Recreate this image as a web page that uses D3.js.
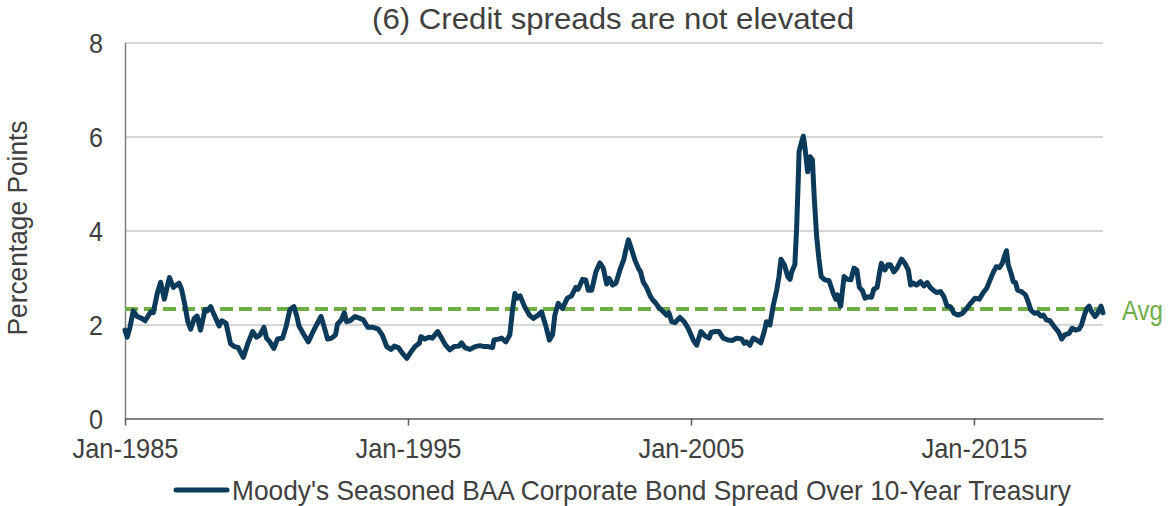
<!DOCTYPE html>
<html>
<head>
<meta charset="utf-8">
<script src="https://cdn.jsdelivr.net/npm/d3@7"></script>
<style>
  body { margin: 0; background: #fff; }
  text { font-family: "Liberation Sans", Arial, sans-serif; fill: #404040; }
</style>
</head>
<body>
<div class="chart"></div>
<script>
// decimal year of each reading
var dates = [
  1985.00, 1985.08, 1985.18, 1985.29, 1985.43, 1985.59, 1985.71, 1985.91, 1986.00, 1986.14,
  1986.26, 1986.39, 1986.57, 1986.71, 1986.91, 1987.00, 1987.12, 1987.22, 1987.32, 1987.45,
  1987.55, 1987.67, 1987.83, 1987.91, 1988.03, 1988.14, 1988.33, 1988.42, 1988.57, 1988.73,
  1988.86, 1989.00, 1989.18, 1989.35, 1989.51, 1989.65, 1989.77, 1989.91, 1990.00, 1990.12,
  1990.26, 1990.39, 1990.57, 1990.69, 1990.83, 1990.97, 1991.07, 1991.15, 1991.30, 1991.48,
  1991.65, 1991.77, 1991.93, 1992.04, 1992.16, 1992.30, 1992.44, 1992.51, 1992.65, 1992.75,
  1992.83, 1992.95, 1993.13, 1993.30, 1993.42, 1993.58, 1993.77, 1993.95, 1994.09, 1994.25,
  1994.40, 1994.52, 1994.66, 1994.80, 1994.96, 1995.11, 1995.25, 1995.40, 1995.46, 1995.60,
  1995.74, 1995.86, 1996.05, 1996.19, 1996.33, 1996.48, 1996.63, 1996.80, 1996.89, 1997.01,
  1997.19, 1997.37, 1997.54, 1997.69, 1997.83, 1997.99, 1998.04, 1998.19, 1998.31, 1998.46,
  1998.60, 1998.70, 1998.78, 1998.86, 1998.96, 1999.13, 1999.29, 1999.43, 1999.60, 1999.72,
  1999.88, 2000.00, 2000.11, 2000.19, 2000.31, 2000.46, 2000.63, 2000.78, 2000.93, 2001.01,
  2001.17, 2001.28, 2001.37, 2001.49, 2001.64, 2001.78, 2001.90, 2002.02, 2002.11, 2002.23,
  2002.35, 2002.49, 2002.63, 2002.70, 2002.79, 2002.90, 2003.02, 2003.14, 2003.22, 2003.31,
  2003.43, 2003.55, 2003.65, 2003.75, 2003.84, 2004.02, 2004.14, 2004.22, 2004.32, 2004.43,
  2004.61, 2004.76, 2004.90, 2005.08, 2005.20, 2005.35, 2005.49, 2005.64, 2005.71, 2005.85,
  2005.99, 2006.14, 2006.31, 2006.46, 2006.61, 2006.79, 2006.88, 2006.96, 2007.08, 2007.20,
  2007.32, 2007.47, 2007.59, 2007.67, 2007.79, 2007.91, 2008.03, 2008.11, 2008.18, 2008.30,
  2008.42, 2008.50, 2008.56, 2008.67, 2008.73, 2008.79, 2008.82, 2008.91, 2008.97, 2009.03,
  2009.12, 2009.21, 2009.29, 2009.36, 2009.44, 2009.52, 2009.60, 2009.73, 2009.88, 2010.03,
  2010.12, 2010.17, 2010.29, 2010.41, 2010.53, 2010.65, 2010.76, 2010.86, 2010.95, 2011.06,
  2011.15, 2011.26, 2011.38, 2011.46, 2011.58, 2011.68, 2011.73, 2011.85, 2011.96, 2012.05,
  2012.17, 2012.28, 2012.44, 2012.56, 2012.68, 2012.76, 2012.86, 2012.97, 2013.11, 2013.23,
  2013.35, 2013.45, 2013.56, 2013.68, 2013.82, 2013.94, 2014.05, 2014.17, 2014.29, 2014.44,
  2014.60, 2014.74, 2014.88, 2015.04, 2015.19, 2015.33, 2015.45, 2015.57, 2015.69, 2015.79,
  2015.90, 2016.00, 2016.07, 2016.15, 2016.21, 2016.31, 2016.39, 2016.47, 2016.54, 2016.68,
  2016.82, 2016.91, 2017.01, 2017.13, 2017.25, 2017.36, 2017.45, 2017.56, 2017.68, 2017.84,
  2017.98, 2018.10, 2018.21, 2018.36, 2018.47, 2018.59, 2018.71, 2018.80, 2018.90, 2018.99,
  2019.07, 2019.16, 2019.28, 2019.37, 2019.49, 2019.56
];

// BAA spread over 10y treasury, percentage points
var spread = [
  1.88, 1.73, 1.95, 2.29, 2.17, 2.13, 2.08, 2.27, 2.25, 2.66,
  2.90, 2.54, 3.00, 2.79, 2.88, 2.75, 2.41, 2.06, 1.90, 2.13,
  2.18, 1.88, 2.32, 2.29, 2.38, 2.22, 1.97, 2.08, 2.03, 1.59,
  1.53, 1.51, 1.30, 1.61, 1.85, 1.73, 1.78, 1.94, 1.71, 1.63,
  1.49, 1.69, 1.71, 1.95, 2.32, 2.38, 2.18, 1.97, 1.81, 1.63,
  1.85, 1.99, 2.17, 1.95, 1.69, 1.71, 1.78, 2.01, 2.10, 2.25,
  2.06, 2.08, 2.17, 2.13, 2.10, 1.94, 1.94, 1.90, 1.78, 1.53,
  1.47, 1.54, 1.51, 1.39, 1.28, 1.42, 1.53, 1.60, 1.74, 1.69,
  1.73, 1.71, 1.85, 1.71, 1.56, 1.46, 1.53, 1.54, 1.61, 1.51,
  1.47, 1.53, 1.55, 1.53, 1.53, 1.51, 1.67, 1.69, 1.71, 1.63,
  1.78, 2.34, 2.66, 2.56, 2.61, 2.37, 2.20, 2.13, 2.20, 2.27,
  1.95, 1.67, 1.78, 2.20, 2.45, 2.34, 2.56, 2.61, 2.79, 2.75,
  2.96, 2.95, 2.73, 2.73, 3.12, 3.31, 3.20, 2.86, 2.98, 2.84,
  2.88, 3.16, 3.39, 3.59, 3.80, 3.60, 3.37, 3.20, 3.12, 2.91,
  2.79, 2.62, 2.52, 2.46, 2.38, 2.27, 2.20, 2.25, 2.06, 2.04,
  2.15, 2.06, 1.92, 1.67, 1.56, 1.85, 1.76, 1.71, 1.83, 1.85,
  1.85, 1.71, 1.67, 1.66, 1.71, 1.69, 1.60, 1.63, 1.56, 1.71,
  1.67, 1.61, 1.85, 2.06, 1.99, 2.41, 2.73, 3.02, 3.39, 3.27,
  3.02, 2.96, 3.12, 3.27, 4.01, 5.07, 5.68, 5.89, 6.01, 5.75,
  5.25, 5.57, 5.50, 4.65, 3.87, 3.40, 3.02, 2.95, 2.93, 2.66,
  2.54, 2.63, 2.39, 3.02, 2.96, 2.95, 3.20, 3.16, 2.79, 2.72,
  2.56, 2.59, 2.58, 2.75, 2.79, 3.16, 3.30, 3.16, 3.27, 3.27,
  3.12, 3.20, 3.39, 3.30, 3.16, 2.84, 2.88, 2.84, 2.91, 2.82,
  2.89, 2.79, 2.73, 2.68, 2.70, 2.59, 2.39, 2.38, 2.24, 2.20,
  2.24, 2.34, 2.45, 2.56, 2.54, 2.68, 2.77, 2.95, 3.12, 3.23,
  3.21, 3.30, 3.44, 3.57, 3.27, 3.09, 2.91, 2.89, 2.73, 2.70,
  2.63, 2.49, 2.31, 2.24, 2.25, 2.18, 2.20, 2.10, 2.08, 1.95,
  1.85, 1.69, 1.78, 1.81, 1.92, 1.88, 1.90, 1.99, 2.20, 2.34,
  2.39, 2.27, 2.17, 2.24, 2.39, 2.25
];

var avgSpread = 2.33;
var yTicks = [0, 2, 4, 6, 8];
var xTickYears = [1985, 1995, 2005, 2015];

var navy = '#0b3a5b', green = '#70ad47';

var margin = {top: 42.5, bottom: 87.5, left: 125, right: 68},
    width = 1171 - margin.left - margin.right,
    height = 506 - margin.top - margin.bottom;

function toDate(t) {
    var yr = Math.floor(t);
    var a = new Date(yr, 0, 1), b = new Date(yr + 1, 0, 1);
    return new Date(+a + (t - yr) * (b - a));
}

var data = dates.map(function(d, i) { return {date: toDate(d), value: spread[i]}; });

var x = d3.scaleTime()
    .domain([new Date(1985, 0, 1), data[data.length - 1].date])
    .range([0, width]);
var y = d3.scaleLinear().domain([0, 8]).range([height, 0]);

var svg = d3.select('.chart')
            .append('svg')
            .attr('width', 1171)
            .attr('height', 506);

var g = svg.append('g')
           .attr('transform', 'translate(' + margin.left + ',' + margin.top + ')');

// squeeze text to the width seen in the picture
function fit(sel, w) {
    sel.attr('textLength', w).attr('lengthAdjust', 'spacingAndGlyphs');
}

// Gridlines
g.append('g')
    .attr('class', 'grid')
    .call(d3.axisLeft(y).tickValues(yTicks.slice(1)).tickSize(-width).tickFormat(''))
    .call(s => s.select('.domain').remove())
    .selectAll('line')
    .attr('stroke', '#c9c9c9')
    .attr('stroke-width', 1.5);

// yAxis
var yAxis = g.append('g')
    .attr('class', 'y axis')
    .call(d3.axisLeft(y).tickValues(yTicks).tickSize(0).tickPadding(22).tickSizeOuter(0));
yAxis.select('.domain').attr('stroke', '#7f7f7f').attr('stroke-width', 1.5);
yAxis.selectAll('text')
    .attr('font-size', 28)
    .attr('dy', '0.36em')
    .style('fill', '#404040')
    .each(function() { fit(d3.select(this), 14); });

// Avg line
g.append('line')
    .attr('x1', 0)
    .attr('x2', width)
    .attr('y1', y(avgSpread))
    .attr('y2', y(avgSpread))
    .attr('stroke', green)
    .attr('stroke-width', 4)
    .attr('stroke-dasharray', '13,6');

g.append('text')
    .attr('x', width + 19)
    .attr('y', y(avgSpread) + 11)
    .attr('font-size', 28)
    .style('fill', green)
    .text('Avg')
    .call(fit, 41);

// Spread line
var line = d3.line()
    .x(d => x(d.date))
    .y(d => y(d.value))
    .curve(d3.curveLinear);

g.append('path')
    .datum(data)
    .attr('fill', 'none')
    .attr('stroke', navy)
    .attr('stroke-width', 5)
    .attr('stroke-linejoin', 'round')
    .attr('stroke-linecap', 'round')
    .attr('d', line);

// xAxis
var xAxis = g.append('g')
    .attr('class', 'x axis')
    .attr('transform', 'translate(0,' + height + ')')
    .call(d3.axisBottom(x)
        .tickValues(xTickYears.map(yr => new Date(yr, 0, 1)))
        .tickFormat(d3.timeFormat('%b-%Y'))
        .tickSize(7)
        .tickSizeOuter(0));
xAxis.select('.domain').attr('stroke', '#595959').attr('stroke-width', 1.5);
xAxis.selectAll('line').attr('stroke', '#595959').attr('stroke-width', 1.5);
xAxis.selectAll('text')
    .attr('font-size', 28)
    .attr('y', 39)
    .attr('dy', null)
    .style('fill', '#404040')
    .each(function() { fit(d3.select(this), 106); });

// Title
svg.append('text')
    .attr('x', 613)
    .attr('y', 29)
    .attr('text-anchor', 'middle')
    .attr('font-size', 30)
    .text('(6) Credit spreads are not elevated')
    .call(fit, 482);

// y label
svg.append('text')
    .attr('transform', 'translate(27,228) rotate(-90)')
    .attr('text-anchor', 'middle')
    .attr('font-size', 27)
    .text('Percentage Points')
    .call(fit, 215);

// Legend
svg.append('line')
    .attr('x1', 176)
    .attr('x2', 227)
    .attr('y1', 490)
    .attr('y2', 490)
    .attr('stroke', navy)
    .attr('stroke-width', 5)
    .attr('stroke-linecap', 'round');

svg.append('text')
    .attr('x', 232)
    .attr('y', 500)
    .attr('font-size', 28)
    .text("Moody's Seasoned BAA Corporate Bond Spread Over 10-Year Treasury")
    .call(fit, 839);
</script>
</body>
</html>
